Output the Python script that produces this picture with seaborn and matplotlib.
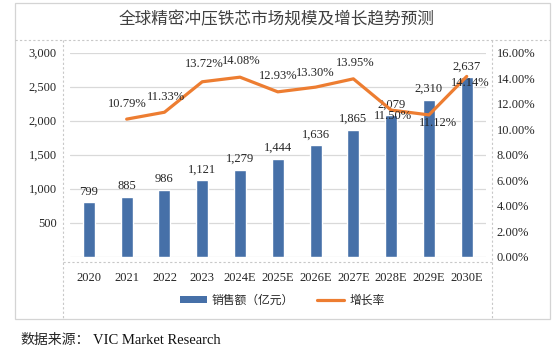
import numpy as np
import pandas as pd
import matplotlib
matplotlib.use("Agg")
import matplotlib.pyplot as plt
import seaborn as sns
from matplotlib.lines import Line2D
from matplotlib.patches import Rectangle, Patch

# ---------------- data ----------------
years = ["2020", "2021", "2022", "2023", "2024E", "2025E", "2026E", "2027E", "2028E", "2029E", "2030E"]
sales = [799, 885, 986, 1121, 1279, 1444, 1636, 1865, 2079, 2310, 2637]
growth = [np.nan, 10.79, 11.33, 13.72, 14.08, 12.93, 13.30, 13.95, 11.50, 11.12, 14.14]
left_ticks = [500, 1000, 1500, 2000, 2500, 3000]
right_ticks = [0, 2, 4, 6, 8, 10, 12, 14, 16]
title = "全球精密冲压铁芯市场规模及增长趋势预测"
source_label = "数据来源："
source_name = "VIC Market Research"
bar_name = "销售额（亿元）"
line_name = "增长率"

# label offsets for growth labels (pixels: dx, dy; dy positive = up)
growth_label_offsets = [(0, 0), (1, 15), (2, 15), (2, 18), (1, 16), (0, 16),
                        (0, 14), (2, 16), (2, -6), (9, -8), (4, -7)]

BLUE = "#4670A8"
ORANGE = "#ED7D31"
GRID = "#D9D9D9"
TXT = "#262626"

sns.set_theme(style="white")
plt.rcParams["font.family"] = ["Liberation Serif", "Noto Sans CJK SC", "DejaVu Sans"]

W, H = 554, 349
fig = plt.figure(figsize=(W / 100, H / 100), dpi=100)
fig.patch.set_facecolor("white")

def fx(px):
    return px / W

def fy(py):
    return 1 - py / H

# axes placement
ax_l, ax_r, ax_t, ax_b = 70, 485.6, 52.7, 256.7
ax = fig.add_axes([fx(ax_l), fy(ax_b), fx(ax_r - ax_l), (ax_b - ax_t) / H])
ax.set_facecolor("none")

df = pd.DataFrame({"year": years, "sales": sales, "growth": growth})
df["pos"] = np.arange(len(df))

sns.barplot(data=df, x="year", y="sales", color=BLUE, saturation=1,
            width=0.32, ax=ax, zorder=3)
ax.set_ylim(0, 3000)
ax.set_xlim(-0.5, len(years) - 0.5)
ax.set_yticks(left_ticks)
ax.set_yticklabels([f"{v:,}" for v in left_ticks])
ax.yaxis.grid(True, color=GRID, lw=0.9)
ax.set_axisbelow(True)
for s in ax.spines.values():
    s.set_visible(False)
ax.axhline(0, color=GRID, lw=0.9, zorder=1)
ax.set_xlabel("")
ax.set_ylabel("")
ax.tick_params(axis="y", length=0, pad=9.5, labelsize=9, labelcolor=TXT)
ax.tick_params(axis="x", length=0, pad=11, labelsize=9, labelcolor=TXT)

# bar labels
for c in ax.containers:
    ax.bar_label(c, labels=[f"{v:,}" for v in sales], padding=3.5,
                 fontsize=9, color=TXT)

# growth line on secondary axis
ax2 = ax.twinx()
ax2.set_position(ax.get_position())
sns.lineplot(data=df.dropna(), x="pos", y="growth", color=ORANGE, lw=2.3,
             ax=ax2, zorder=4, legend=False)
ax2.set_ylim(0, 16)
ax2.set_yticks(right_ticks)
ax2.set_yticklabels([f"{v:.2f}%" for v in right_ticks])
ax2.tick_params(axis="y", length=0, pad=8, labelsize=9, labelcolor=TXT)
for s in ax2.spines.values():
    s.set_visible(False)
ax2.set_xlabel("")
ax2.set_ylabel("")
ax2.set_xlim(-0.5, len(years) - 0.5)

for i, (g, off) in enumerate(zip(growth, growth_label_offsets)):
    if np.isnan(g):
        continue
    ax2.annotate(f"{g:.2f}%", xy=(i, g), xytext=(off[0] * 0.72, off[1] * 0.72),
                 textcoords="offset points", ha="center", va="center",
                 fontsize=9, color=TXT, zorder=6)

# title
fig.text(fx(277), fy(20), title, ha="center", va="center", fontsize=12,
         color="#404040", family=["Noto Sans CJK SC", "DejaVu Sans"])

# legend
handles = [Patch(facecolor=BLUE, edgecolor="none"),
           Line2D([0], [0], color=ORANGE, lw=2.3)]
fig.legend(handles, [bar_name, line_name], loc="center",
           bbox_to_anchor=(fx(282), fy(300)), ncol=2, frameon=False,
           prop={"family": ["Noto Sans CJK SC", "DejaVu Sans"], "size": 8.5},
           handlelength=2.3, handleheight=0.6, handletextpad=0.4,
           columnspacing=2.0, labelcolor=TXT)

# source line
fig.text(fx(20), fy(340), source_label, ha="left", va="center", fontsize=10,
         color=TXT, family=["Noto Sans CJK SC", "DejaVu Sans"])
fig.text(fx(93), fy(340), source_name, ha="left", va="center", fontsize=10.5,
         color="#111111", family=["Liberation Serif"])

# table-like borders
fig.add_artist(Rectangle((fx(15), fy(319)), fx(535), (319 - 3) / H,
                         transform=fig.transFigure, fill=False,
                         edgecolor="#D4D4D4", lw=0.9))
dash_kw = dict(color="#C8C8C8", lw=0.8, ls=(0, (2, 2)), transform=fig.transFigure)
fig.add_artist(Line2D([fx(15), fx(550)], [fy(40), fy(40)], **dash_kw))
fig.add_artist(Line2D([fx(63), fx(63)], [fy(40), fy(319)], **dash_kw))
fig.add_artist(Line2D([fx(492), fx(492)], [fy(40), fy(319)], **dash_kw))
fig.add_artist(Line2D([fx(63), fx(492)], [fy(262), fy(262)], **dash_kw))

fig.savefig("out.png", dpi=100, facecolor="white")
